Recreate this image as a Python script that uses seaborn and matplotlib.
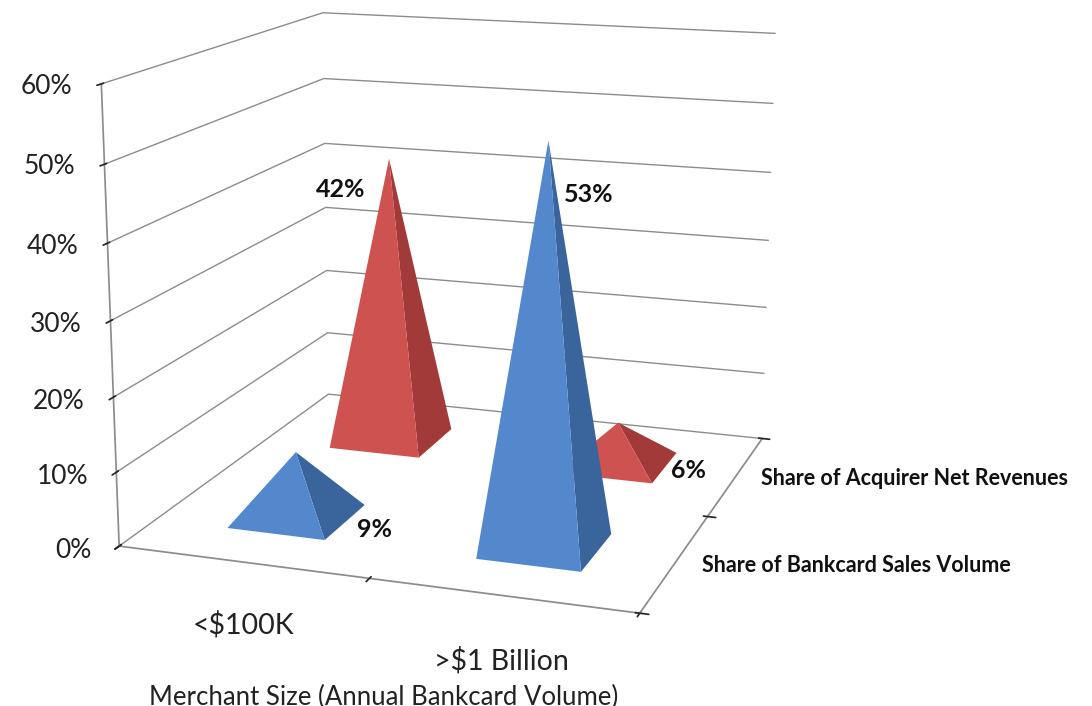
import numpy as np
import matplotlib
matplotlib.use("Agg")
import matplotlib.pyplot as plt
import seaborn as sns
from mpl_toolkits.mplot3d.art3d import Poly3DCollection

sns.set_theme(style="white")
plt.rcParams["font.family"] = ["Lato", "DejaVu Sans"]

# data
categories = ["<$100K", ">$1 Billion"]
series_names = ["Share of Bankcard Sales Volume", "Share of Acquirer Net Revenues"]
bankcard_volume = [0.09, 0.53]
acquirer_revenue = [0.42, 0.06]
z_ticks = [0.0, 0.1, 0.2, 0.3, 0.4, 0.5, 0.6]
z_tick_labels = ["0%", "10%", "20%", "30%", "40%", "50%", "60%"]

# (light face, dark face) per series
series_colors = [("#5389CC", "#3A649C"), ("#CE5250", "#A13A38")]
HALF = 0.2

fig = plt.figure(figsize=(10.92, 7.06), dpi=100)
ax = fig.add_axes([-0.085, 0.093, 1, 1], projection="3d")
ax.set_proj_type("persp", focal_length=0.6)
ax.view_init(elev=14, azim=-71)
ax.set_box_aspect((1.07, 1.1, 0.93), zoom=1.18)

ax.set_xlim(0, 2)
ax.set_ylim(0, 2)
ax.set_zlim(0, 0.6)


def pyramid_faces(cx, cy, h):
    c0 = (cx - HALF, cy - HALF, 0)
    c1 = (cx + HALF, cy - HALF, 0)
    c2 = (cx + HALF, cy + HALF, 0)
    top = (cx, cy, h)
    return [c0, c1, top], [c1, c2, top]


faces, colors = [], []
for si, vals in enumerate([bankcard_volume, acquirer_revenue]):
    for ci, v in enumerate(vals):
        front, right = pyramid_faces(ci + 0.5, si + 0.5, v)
        faces += [front, right]
        colors += [series_colors[si][0], series_colors[si][1]]

ax.add_collection3d(Poly3DCollection(faces, facecolors=colors, edgecolors="none"))

# value labels: offsets (dx, z) relative to each pyramid
label_offsets = {(0, 0): (0.32, -0.005), (0, 1): (0.15, 0.465),
                 (1, 0): (-0.22, 0.37), (1, 1): (0.3, 0.0)}
for si, vals in enumerate([bankcard_volume, acquirer_revenue]):
    for ci, v in enumerate(vals):
        dx, lz = label_offsets[(si, ci)]
        ax.text(ci + 0.5 + dx, si + 0.5, lz, f"{v:.0%}", fontsize=18,
                fontweight="bold", color="#111111", ha="center", va="center")

# axes styling
for axis in (ax.xaxis, ax.yaxis, ax.zaxis):
    axis.set_pane_color((1, 1, 1, 0))
    axis.pane.set_edgecolor("none")
    axis.line.set_color("#8c8c8c")
    axis._axinfo["grid"].update(color="#8c8c8c", linewidth=1.0)
    axis._axinfo["tick"].update(color="#8c8c8c")
    axis.label.set_visible(False)
    axis.offsetText.set_visible(False)
ax.xaxis.gridlines.set_visible(False)
ax.yaxis.gridlines.set_visible(False)
ax.grid(True)
ax.zaxis.set_ticks_position("lower")

ax.set_xticks([0, 1, 2])
ax.set_yticks([0, 1, 2])
ax.xaxis.set_tick_params(label1On=False)
ax.yaxis.set_tick_params(label1On=False)
ax.set_zticks(z_ticks)
zlabels = ax.set_zticklabels(z_tick_labels, fontsize=19, color="#222222")
for lbl in zlabels:
    lbl.set_verticalalignment("center")
    lbl.set_horizontalalignment("right")
ax.zaxis.set_tick_params(pad=2)

for ci, name in enumerate(categories):
    ax.text(ci + 0.5, 0, -0.085, name, fontsize=20.5, color="#222222", ha="center", va="center")
for si, name in enumerate(series_names):
    ax.text(2.1, si + 0.5, 0, name, fontsize=15.5, fontweight="bold", color="#111111",
            ha="left", va="center")
ax.text(1.05, 0, -0.157, "Merchant Size (Annual Bankcard Volume)", fontsize=18.5,
        color="#222222", ha="center", va="center")

fig.savefig("out.png", dpi=100)
